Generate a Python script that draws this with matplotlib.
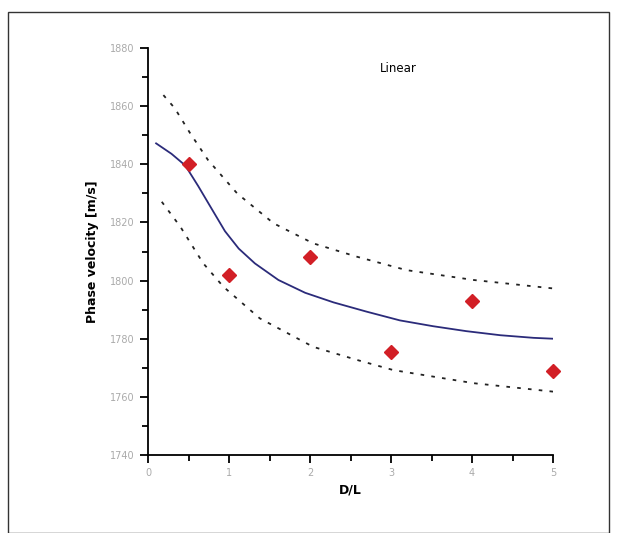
import matplotlib
matplotlib.use("Agg")
import matplotlib.pyplot as plt
from matplotlib.patches import Rectangle
from matplotlib.ticker import MultipleLocator

# data points
pts_x = [0.5, 1.0, 2.0, 3.0, 4.0, 5.0]
pts_y = [1840, 1802, 1808, 1775.5, 1793, 1769]

# fitted curve
fit_x = [0.1, 0.29, 0.46, 0.62, 0.79, 0.95, 1.12, 1.32, 1.61, 1.94, 2.29, 2.7, 3.11, 3.52, 3.93, 4.35, 4.76, 5.0]
fit_y = [1847.2, 1843.6, 1839.6, 1832.5, 1824.5, 1817.0, 1811.0, 1805.9, 1800.2, 1795.8, 1792.5, 1789.3, 1786.3, 1784.3, 1782.6, 1781.2, 1780.3, 1780.0]

# upper bound
up_x = [0.19, 0.33, 0.52, 0.74, 1.1, 1.55, 2.04, 2.58, 3.19, 4.02, 5.0]
up_y = [1863.8, 1859.3, 1850.7, 1841.5, 1830.0, 1819.7, 1812.8, 1808.2, 1803.6, 1800.2, 1797.3]

# lower bound
lo_x = [0.17, 0.4, 0.68, 0.93, 1.38, 2.04, 2.58, 3.03, 4.02, 5.0]
lo_y = [1827.1, 1818.5, 1806.0, 1797.9, 1787.0, 1777.2, 1772.7, 1769.2, 1764.7, 1761.8]

fig = plt.figure(figsize=(6.18, 5.33), dpi=100)
ax = fig.add_axes([148/618, 1-455/533, (553-148)/618, (455-48)/533])

ax.plot(up_x, up_y, color="#222222", lw=1.3, linestyle=(0, (2, 4)))
ax.plot(lo_x, lo_y, color="#222222", lw=1.3, linestyle=(0, (2, 4)))
ax.plot(fit_x, fit_y, color="#2b2b7a", lw=1.3)
ax.plot(pts_x, pts_y, linestyle="none", marker="D", markersize=7.5, color="#d21f26", clip_on=False)

ax.set_xlim(0, 5)
ax.set_ylim(1740, 1880)
ax.xaxis.set_major_locator(MultipleLocator(1))
ax.xaxis.set_minor_locator(MultipleLocator(0.5))
ax.yaxis.set_major_locator(MultipleLocator(20))
ax.yaxis.set_minor_locator(MultipleLocator(10))
for s in ["top", "right"]:
    ax.spines[s].set_visible(False)
for s in ["left", "bottom"]:
    ax.spines[s].set_linewidth(1.3)
ax.tick_params(which="major", length=6, width=1.3, labelsize=7, labelcolor="#aaaaaa", direction="out")
ax.tick_params(which="minor", length=4, width=1.3, direction="out")

ax.set_xlabel("D/L", fontsize=9, fontweight="bold", labelpad=4)
ax.set_ylabel("Phase velocity [m/s]", fontsize=9, fontweight="bold", labelpad=8)
ax.text(3.09, 1873, "Linear", fontsize=8.5, ha="center", va="center")

fig.patches.append(Rectangle((8/618, 0), (609-8)/618, 1-12/533, transform=fig.transFigure,
                             fill=False, edgecolor="#333333", lw=1.0))

fig.savefig("out.png", dpi=100)
